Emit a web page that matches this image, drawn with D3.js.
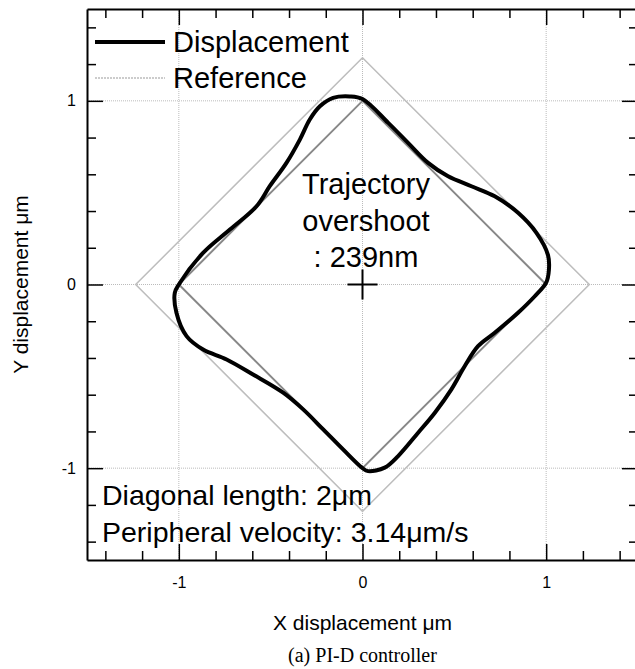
<!DOCTYPE html>
<html lang="en">
<head>
  <meta charset="UTF-8">
  <title>PI-D controller trajectory</title>
  <script src="https://d3js.org/d3.v7.min.js"></script>
  <style>
    body { margin: 0; background: #fff; }
    svg text { font-family: "Liberation Sans", Arial, sans-serif; fill: #000; }
    .caption { font-family: "Liberation Serif", "Times New Roman", serif !important; }
    .grid { stroke: #bbb; stroke-width: 1; stroke-dasharray: 1,1; }
  </style>
</head>
<body>
  <svg width="635" height="669"></svg>

  <script>
    // measured displacement (um), clockwise from the top corner
    const dispX = [0, 0.14, 0.248, 0.357, 0.466, 0.593, 0.72, 0.847, 0.947, 1.01, 1.015, 1.0,
      0.938, 0.847, 0.72, 0.629, 0.557, 0.484, 0.394, 0.303, 0.194, 0.121, 0.03, 0.0,
      -0.106, -0.214, -0.323, -0.432, -0.596, -0.74, -0.868, -0.958, -1.013, -1.022, -1.0,
      -0.868, -0.722, -0.577, -0.505, -0.414, -0.341, -0.287, -0.232, -0.16, -0.069];
    const dispY = [1.01, 0.88, 0.771, 0.662, 0.589, 0.535, 0.48, 0.39, 0.281, 0.16, 0.08, 0.01,
      -0.064, -0.154, -0.263, -0.336, -0.444, -0.571, -0.698, -0.807, -0.934, -0.997, -1.016, -1.0,
      -0.898, -0.789, -0.68, -0.589, -0.49, -0.408, -0.354, -0.281, -0.154, -0.045, 0.0,
      0.172, 0.299, 0.426, 0.535, 0.662, 0.789, 0.898, 0.97, 1.016, 1.024];

    // reference square (diagonal 2 um) and outer overshoot bound
    const refX = [0, 1, 0, -1, 0];
    const refY = [1, 0, -1, 0, 1];
    const boundX = [0, 1.235, 0, -1.235, 0];
    const boundY = [1.235, 0, -1.235, 0, 1.235];

    const majorTicks = [-1, 0, 1];
    const minorTicks = [-1.4, -1.2, -0.8, -0.6, -0.4, -0.2, 0.2, 0.4, 0.6, 0.8, 1.2, 1.4];

    const svg = d3.select("svg");
    const x = d3.scaleLinear().domain([-1.5, 1.5]).range([87, 638]);
    const y = d3.scaleLinear().domain([-1.5, 1.5]).range([560, 9]);

    const zip = (xs, ys) => xs.map((v, i) => [v, ys[i]]);

    // grid
    svg.append("g").selectAll("line.gx").data(majorTicks).enter().append("line")
      .attr("class", "grid")
      .attr("x1", d => x(d)).attr("x2", d => x(d))
      .attr("y1", y.range()[0]).attr("y2", y.range()[1]);
    svg.append("g").selectAll("line.gy").data(majorTicks).enter().append("line")
      .attr("class", "grid")
      .attr("y1", d => y(d)).attr("y2", d => y(d))
      .attr("x1", x.range()[0]).attr("x2", x.range()[1]);

    const lineGen = d3.line().x(d => x(d[0])).y(d => y(d[1]));

    svg.append("path")
      .attr("d", lineGen(zip(boundX, boundY)))
      .attr("fill", "none").attr("stroke", "#bdbdbd").attr("stroke-width", 1.5);

    svg.append("path")
      .attr("d", lineGen(zip(refX, refY)))
      .attr("fill", "none").attr("stroke", "#888").attr("stroke-width", 2);

    svg.append("path")
      .attr("d", d3.line().x(d => x(d[0])).y(d => y(d[1]))
        .curve(d3.curveCatmullRomClosed.alpha(0.5))(zip(dispX, dispY)))
      .attr("fill", "none").attr("stroke", "#000").attr("stroke-width", 4)
      .attr("stroke-linejoin", "round");

    // center cross
    svg.append("path")
      .attr("d", `M${x(0) - 15},${y(0)}H${x(0) + 15}M${x(0)},${y(0) - 15}V${y(0) + 15}`)
      .attr("stroke", "#000").attr("stroke-width", 2);

    // axes: ticks point inward on all four sides
    const axes = [
      d3.axisBottom(x).tickPadding(17), d3.axisTop(x).tickPadding(17),
      d3.axisLeft(y).tickPadding(11), d3.axisRight(y).tickPadding(11)
    ];
    const pos = [
      `translate(0,${y.range()[0]})`, `translate(0,${y.range()[1]})`,
      `translate(${x.range()[0]},0)`, `translate(${x.range()[1]},0)`
    ];
    axes.forEach((ax, i) => {
      const g = svg.append("g").attr("transform", pos[i])
        .call(ax.tickValues(majorTicks).tickSizeInner(-16).tickSizeOuter(0).tickFormat(d => String(d)));
      g.select(".domain").attr("stroke", "#000").attr("stroke-width", 2);
      g.selectAll(".tick line").attr("stroke", "#000").attr("stroke-width", 1.5);
      g.selectAll(".tick text").attr("font-size", 16)
        .style("font-family", "'Liberation Sans', Arial, sans-serif");
      if (i === 1 || i === 3) g.selectAll(".tick text").remove();
      const minor = svg.append("g").attr("transform", pos[i])
        .call(ax.tickValues(minorTicks).tickSizeInner(-9).tickFormat(""));
      minor.select(".domain").remove();
      minor.selectAll(".tick line").attr("stroke", "#000").attr("stroke-width", 1.5);
    });

    // legend
    svg.append("line").attr("x1", 95).attr("x2", 165).attr("y1", 42).attr("y2", 42)
      .attr("stroke", "#000").attr("stroke-width", 4);
    svg.append("line").attr("x1", 95).attr("x2", 165).attr("y1", 78).attr("y2", 78)
      .attr("stroke", "#999").attr("stroke-width", 1).attr("stroke-dasharray", "2,1");
    svg.append("text").attr("x", 173).attr("y", 52).attr("font-size", 29).text("Displacement");
    svg.append("text").attr("x", 173).attr("y", 88).attr("font-size", 29).text("Reference");

    // annotations
    const note = svg.append("text").attr("text-anchor", "middle").attr("font-size", 29);
    ["Trajectory", "overshoot", ": 239nm"].forEach((t, i) =>
      note.append("tspan").attr("x", 366).attr("y", 194 + i * 36.5).text(t));

    svg.append("text").attr("x", 102).attr("y", 505).attr("font-size", 28.5)
      .text("Diagonal length: 2\u03bcm");
    svg.append("text").attr("x", 102).attr("y", 542).attr("font-size", 28.5)
      .text("Peripheral velocity: 3.14\u03bcm/s");

    // axis titles
    svg.append("text").attr("x", x(0)).attr("y", 630).attr("text-anchor", "middle")
      .attr("font-size", 21).text("X displacement \u03bcm");
    svg.append("text").attr("transform", `translate(28,${y(0)}) rotate(-90)`)
      .attr("text-anchor", "middle").attr("font-size", 21).text("Y displacement \u03bcm");

    svg.append("text").attr("class", "caption").attr("x", x(0)).attr("y", 662)
      .attr("text-anchor", "middle").attr("font-size", 20).text("(a) PI-D controller");
  </script>
</body>
</html>
